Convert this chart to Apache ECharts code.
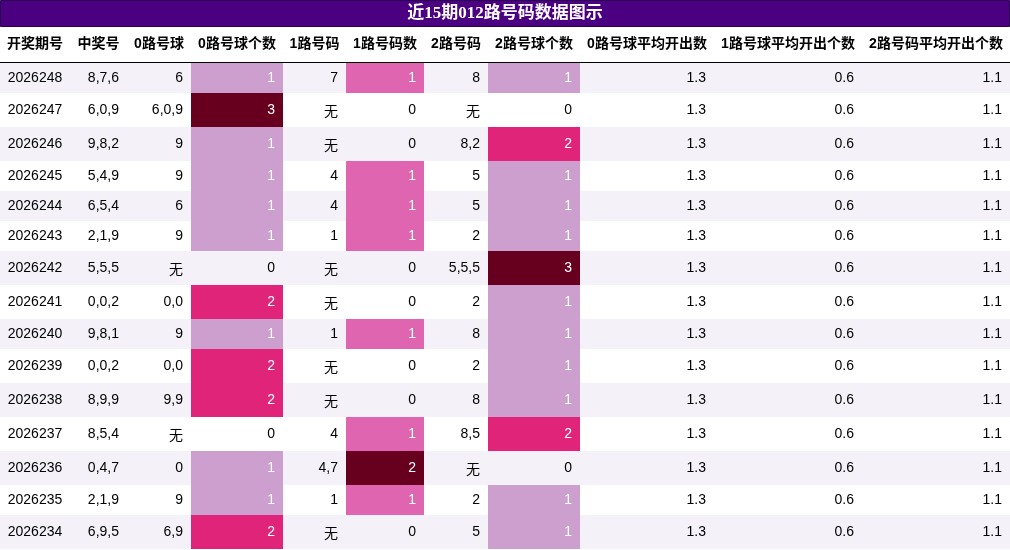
<!DOCTYPE html>
<html>
<head>
<meta charset="utf-8">
<script src="https://cdn.jsdelivr.net/npm/echarts@6/dist/echarts.min.js"></script>
<style>html,body{margin:0;padding:0;background:#fff}#main{width:1010px;height:550px}</style>
</head>
<body>
<div id="main"></div>
<script>
// table data
const titleText = '近15期012路号码数据图示';
const headers = ['开奖期号', '中奖号', '0路号球', '0路号球个数', '1路号码', '1路号码数', '2路号码', '2路号球个数', '0路号球平均开出数', '1路号球平均开出个数', '2路号码平均开出个数'];
const periods = ['2026248', '2026247', '2026246', '2026245', '2026244', '2026243', '2026242', '2026241', '2026240', '2026239', '2026238', '2026237', '2026236', '2026235', '2026234'];
const draws = ['8,7,6', '6,0,9', '9,8,2', '5,4,9', '6,5,4', '2,1,9', '5,5,5', '0,0,2', '9,8,1', '0,0,2', '8,9,9', '8,5,4', '0,4,7', '2,1,9', '6,9,5'];
const zeroNums = ['6', '6,0,9', '9', '9', '6', '9', '无', '0,0', '9', '0,0', '9,9', '无', '0', '9', '6,9'];
const zeroCount = [1, 3, 1, 1, 1, 1, 0, 2, 1, 2, 2, 0, 1, 1, 2];
const oneNums = ['7', '无', '无', '4', '4', '1', '无', '无', '1', '无', '无', '4', '4,7', '1', '无'];
const oneCount = [1, 0, 0, 1, 1, 1, 0, 0, 1, 0, 0, 1, 2, 1, 0];
const twoNums = ['8', '无', '8,2', '5', '5', '2', '5,5,5', '2', '8', '2', '8', '8,5', '无', '2', '5'];
const twoCount = [1, 0, 2, 1, 1, 1, 3, 1, 1, 1, 1, 2, 0, 1, 1];
const zeroAvg = 1.3, oneAvg = 0.6, twoAvg = 1.1;

// layout
const colEdges = [0, 70, 127, 191, 283, 346, 424, 488, 580, 714, 862, 1010];
const headTop = 27, headBottom = 62;
const rowEdges = [headBottom + 1];
periods.forEach((p, i) => {
  const hasNone = [zeroNums[i], oneNums[i], twoNums[i]].includes('无');
  rowEdges.push(rowEdges[i] + (hasNone ? 34 : 30));
});

function cellColor(v, max) {
  if (!v) return null;
  const r = v / max;
  if (r >= 1) return '#67001f';
  if (r > 0.6) return '#e0247a';
  if (r >= 0.5) return '#df65b0';
  return '#cc9fce';
}

// cells: [col, row, text, fill]
const cells = [];
periods.forEach((p, i) => {
  const row = [p, draws[i], zeroNums[i], zeroCount[i], oneNums[i], oneCount[i], twoNums[i], twoCount[i], zeroAvg.toFixed(1), oneAvg.toFixed(1), twoAvg.toFixed(1)];
  const fills = {3: cellColor(zeroCount[i], 3), 5: cellColor(oneCount[i], 2), 7: cellColor(twoCount[i], 3)};
  row.forEach((t, c) => cells.push([c, i, String(t), fills[c] || '']));
});

const chart = echarts.init(document.getElementById('main'));
chart.setOption({
  animation: false,
  grid: {left: 0, right: 0, top: 0, bottom: 0},
  xAxis: {type: 'value', min: 0, max: 1010, show: false},
  yAxis: {type: 'value', min: 0, max: 550, inverse: true, show: false},
  graphic: [
    {type: 'rect', shape: {x: 0.5, y: 0.5, width: 1009, height: 26}, style: {fill: '#4b0082', stroke: '#2a0050', lineWidth: 1}},
    {type: 'text', x: 505, y: 14, style: {text: titleText, fill: '#fff', font: 'bold 17px "Liberation Serif", "Noto Sans CJK SC"', align: 'center', verticalAlign: 'middle'}},
    {type: 'line', shape: {x1: 0, y1: headBottom + 0.5, x2: 1010, y2: headBottom + 0.5}, style: {stroke: '#000', lineWidth: 1}}
  ],
  series: [
    {
      type: 'custom',
      coordinateSystem: 'cartesian2d',
      data: headers.map((h, c) => [c, h]),
      renderItem: function (params, api) {
        const c = api.value(0);
        const p0 = api.coord([colEdges[c], headTop]);
        const p1 = api.coord([colEdges[c + 1], headBottom]);
        return {
          type: 'text',
          style: {
            text: headers[c], x: (p0[0] + p1[0]) / 2, y: (p0[1] + p1[1]) / 2,
            align: 'center', verticalAlign: 'middle', fill: '#000',
            font: 'bold 14px "Liberation Sans", "Noto Sans CJK SC"'
          }
        };
      }
    },
    {
      type: 'custom',
      coordinateSystem: 'cartesian2d',
      data: cells.map((d, k) => [d[0], d[1], k]),
      renderItem: function (params, api) {
        const c = api.value(0), r = api.value(1);
        const d = cells[api.value(2)];
        const p0 = api.coord([colEdges[c], rowEdges[r]]);
        const p1 = api.coord([colEdges[c + 1], rowEdges[r + 1]]);
        const bg = d[3] || (r % 2 === 0 ? '#f4f2f8' : '#ffffff');
        const cy = (p0[1] + p1[1]) / 2 + (d[2] === '无' ? 2 : 0);
        return {
          type: 'group',
          children: [
            {type: 'rect', shape: {x: p0[0], y: p0[1], width: p1[0] - p0[0], height: p1[1] - p0[1]}, style: {fill: bg}},
            {
              type: 'text',
              style: {
                text: d[2],
                x: c === 0 ? (p0[0] + p1[0]) / 2 : p1[0] - 8,
                y: cy,
                align: c === 0 ? 'center' : 'right', verticalAlign: 'middle',
                fill: d[3] ? '#fff' : '#000',
                font: '14px "Liberation Sans", "Noto Sans CJK SC"'
              }
            }
          ]
        };
      }
    }
  ]
});
</script>
</body>
</html>
